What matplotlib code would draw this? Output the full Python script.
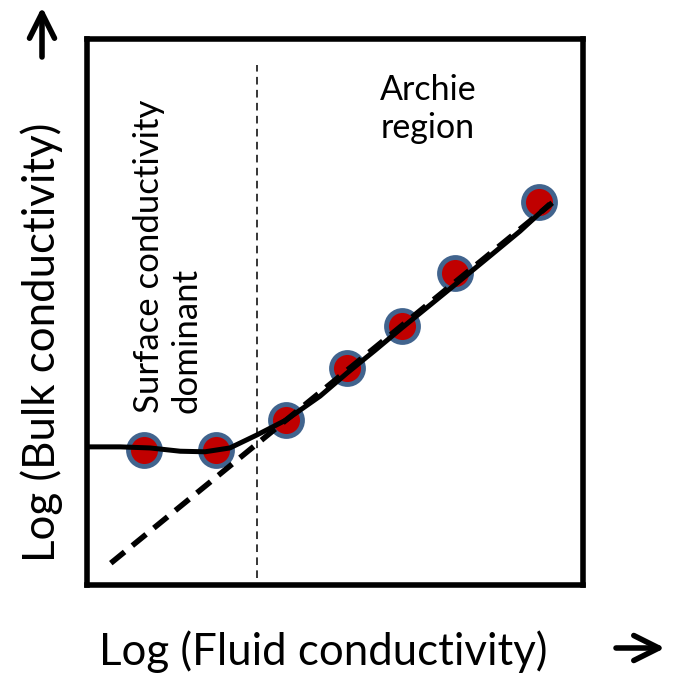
import matplotlib.pyplot as plt
from matplotlib.patches import FancyArrowPatch

# Measured points (arbitrary log units, 0-10 on both axes)
point_x = [1.15, 2.60, 4.01, 5.24, 6.35, 7.42, 9.11]
point_y = [2.47, 2.47, 3.02, 3.97, 4.74, 5.71, 7.01]

# Model curve with surface conductivity
curve_x = [0.02, 0.67, 1.27, 1.88, 2.38, 2.88, 3.43, 4.01, 4.70, 5.24, 5.81, 6.35, 6.92, 7.42, 8.13, 8.73, 9.33]
curve_y = [2.53, 2.53, 2.51, 2.45, 2.44, 2.51, 2.75, 3.02, 3.46, 3.88, 4.30, 4.71, 5.13, 5.50, 6.03, 6.48, 6.98]

# Archie line (no surface conductivity)
archie_x = [0.48, 9.38]
archie_y = [0.40, 7.00]

# Boundary between the two regions
boundary_x = 3.43
boundary_y = [0.13, 9.52]

font = ['Lato', 'DejaVu Sans']

fig = plt.figure(figsize=(6.73, 6.75), dpi=100)
ax = fig.add_axes([87 / 673, 1 - 585 / 675, (583 - 87) / 673, (585 - 39) / 675])
ax.set_xlim(0, 10)
ax.set_ylim(0, 10)

ax.plot([boundary_x, boundary_x], boundary_y, color='black', lw=1.1,
        dashes=(5, 3.5), zorder=1)
ax.plot(point_x, point_y, 'o', ms=23, mfc='#C00000', mec='#41648E', mew=3.5,
        zorder=2, clip_on=False)
ax.plot(archie_x, archie_y, color='black', lw=4, dashes=(3.2, 1.8), zorder=3)
ax.plot(curve_x, curve_y, color='black', lw=3.6, zorder=4,
        solid_capstyle='butt', clip_on=False)

ax.text(6.87, 8.72, 'Archie\nregion', ha='center', va='center', fontsize=24.5,
        family=font, linespacing=1.25)
ax.text(1.63, 3.15, 'Surface conductivity\ndominant', rotation=90, ha='center',
        va='bottom', multialignment='left', fontsize=25, family=font,
        linespacing=1.2)

for side in ax.spines.values():
    side.set_linewidth(4)
ax.set_xticks([])
ax.set_yticks([])

fig.text(323 / 673, 1 - 652 / 675, 'Log (Fluid conductivity)', ha='center',
         va='center', fontsize=31.5, family=font)
fig.text(42 / 673, 1 - 342 / 675, 'Log (Bulk conductivity)', ha='center',
         va='center', rotation=90, fontsize=31.5, family=font)

# direction arrows
arrow = dict(arrowstyle='->,head_length=0.9,head_width=0.45', lw=4,
             color='black', capstyle='round', joinstyle='round',
             shrinkA=0, shrinkB=0, mutation_scale=20,
             transform=fig.transFigure)
fig.add_artist(FancyArrowPatch((42 / 673, 1 - 57 / 675),
                               (42 / 673, 1 - 7 / 675), **arrow))
fig.add_artist(FancyArrowPatch((616 / 673, 1 - 648 / 675),
                               (665 / 673, 1 - 648 / 675), **arrow))

fig.savefig('out.png', dpi=100)
